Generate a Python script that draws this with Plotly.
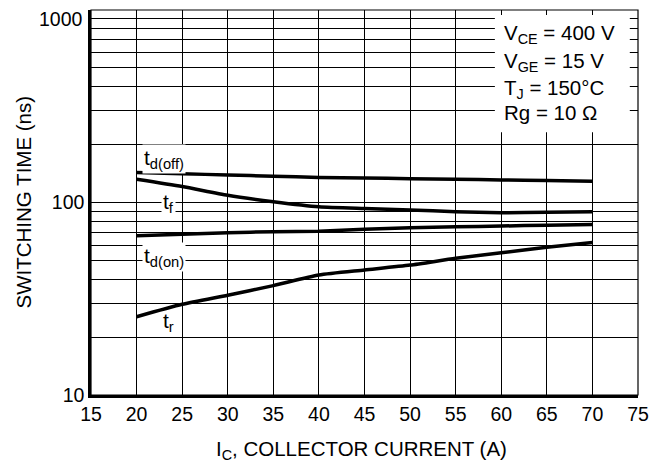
import math
import plotly.graph_objects as go

ic = [20, 25, 30, 35, 40, 45, 50, 55, 60, 65, 70]
td_off = [143, 141, 139, 137, 135, 134, 133, 132, 131, 130, 129]
tf = [132, 121, 109, 101, 95, 93, 91.4, 89.6, 88.5, 88.9, 89.6]
td_on = [67.2, 68.5, 69.7, 70.5, 71.0, 72.6, 74.0, 74.8, 75.5, 76.2, 76.8]
tr = [25.5, 29.6, 33, 37, 42, 44.6, 47.3, 51.3, 54.8, 58.5, 62]

x_ticks = [15, 20, 25, 30, 35, 40, 45, 50, 55, 60, 65, 70, 75]
y_ticks = [10, 100, 1000]
y_labels = ["10", "100", "1000"]
y_minor = [20, 30, 40, 50, 60, 70, 80, 90, 200, 300, 400, 500, 600, 700, 800, 900]

cond_lines = ["V<sub>CE</sub> = 400 V", "V<sub>GE</sub> = 15 V",
              "T<sub>J</sub> = 150°C", "Rg = 10 Ω"]
cond_y = [750, 535, 390, 292]

curve_labels = ["t<sub>d(off)</sub>", "t<sub>f</sub>", "t<sub>d(on)</sub>", "t<sub>r</sub>"]
label_x = [20.6, 22.7, 20.6, 22.7]
label_y = [168, 100, 52, 24]
label_bg = ["white", "white", "white", "rgba(0,0,0,0)"]

FONT = "Liberation Sans, Arial, sans-serif"

fig = go.Figure()
for ys in [td_off, tf, td_on, tr]:
    fig.add_trace(go.Scatter(x=ic, y=ys, mode="lines",
                             line=dict(color="black", width=3.5, shape="spline", smoothing=0.6),
                             showlegend=False, hoverinfo="skip"))

# white box behind conditions
fig.add_shape(type="rect", xref="x", yref="y", x0=59.3, x1=74.1, y0=232, y1=942,
              fillcolor="white", line=dict(width=0), layer="above")
for t, yv in zip(cond_lines, cond_y):
    fig.add_annotation(x=60.05, y=math.log10(yv), xref="x", yref="y", text=t, showarrow=False,
                       xanchor="left", yanchor="middle",
                       font=dict(size=20.5, color="black", family=FONT))

for t, xv, yv, bg in zip(curve_labels, label_x, label_y, label_bg):
    fig.add_annotation(x=xv, y=math.log10(yv), xref="x", yref="y", text=t, showarrow=False,
                       xanchor="left", bgcolor=bg, borderpad=1,
                       font=dict(size=21, color="black", family=FONT))

# frame
fig.add_shape(type="rect", xref="paper", yref="paper", x0=0, x1=1, y0=0, y1=1,
              line=dict(color="black", width=1.2), layer="above")

# top tick label drawn as annotation so it stays inside the page
fig.add_annotation(x=0, y=1, xref="paper", yref="paper", xanchor="right", yanchor="top",
                   xshift=-6, yshift=4, text=y_labels[-1], showarrow=False,
                   font=dict(size=19.5, color="black", family=FONT))

# axis titles
fig.add_annotation(x=0.5, y=0, xref="paper", yref="paper", yanchor="middle", xshift=-3,
                   yshift=-55, text="I<sub>C</sub>, COLLECTOR CURRENT (A)", showarrow=False,
                   font=dict(size=20.5, color="black", family=FONT))
fig.add_annotation(x=0, y=0.5, xref="paper", yref="paper", xanchor="center",
                   xshift=-68, textangle=-90, text="SWITCHING TIME (ns)", showarrow=False,
                   font=dict(size=20.5, color="black", family=FONT))

fig.update_xaxes(range=[15, 75], tickvals=x_ticks, showgrid=True, gridcolor="black",
                 gridwidth=1, showline=True, linecolor="black", linewidth=2.5,
                 ticks="", zeroline=False, automargin=False,
                 tickfont=dict(size=19.5, color="black", family=FONT))
fig.update_yaxes(type="log", range=[1, 3], tickvals=y_ticks[:-1], ticktext=y_labels[:-1],
                 showgrid=True, gridcolor="black", gridwidth=1, showline=True,
                 linecolor="black", linewidth=2.5, ticks="", zeroline=False, automargin=False,
                 minor=dict(tickvals=y_minor, showgrid=True, gridcolor="black", gridwidth=1, ticks=""),
                 tickfont=dict(size=19.5, color="black", family=FONT))

fig.update_layout(width=661, height=464, margin=dict(l=83, r=31, t=2, b=77),
                  plot_bgcolor="white", paper_bgcolor="white",
                  font=dict(family=FONT, color="black"))

fig.write_html("out.html")
